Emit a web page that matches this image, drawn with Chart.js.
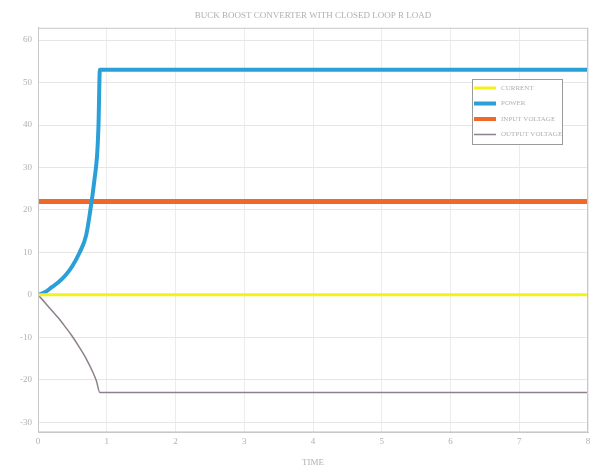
<!DOCTYPE html>
<html>
<head>
<meta charset="utf-8">
<script src="https://cdn.jsdelivr.net/npm/chart.js@4/dist/chart.umd.min.js"></script>
<style>
  html, body { margin: 0; padding: 0; background: #ffffff; }
  #wrap { width: 590px; height: 470px; }
</style>
</head>
<body>
<div id="wrap"><canvas id="c" width="590" height="470"></canvas></div>
<script>
// Simulation output of the buck-boost converter (time in s)
const timeRamp = [0, 0.1, 0.2, 0.3, 0.4, 0.5, 0.6, 0.7, 0.78, 0.82, 0.86, 0.88, 0.9, 8];
const powerValues = [0, 0.6, 1.8, 3, 4.6, 6.8, 9.8, 14, 22, 27, 33, 40, 53, 53];
const outputTime = [0, 0.1, 0.2, 0.3, 0.4, 0.5, 0.6, 0.7, 0.8, 0.85, 0.9, 8];
const outputVoltage = [0, -1.8, -3.7, -5.5, -7.6, -9.8, -12.3, -15, -18.3, -20.3, -23, -23];
const flatTime = [0, 8];
const currentValues = [0, 0];
const inputVoltage = [22, 22];
const seriesNames = ['CURRENT', 'POWER', 'INPUT VOLTAGE', 'OUTPUT VOLTAGE'];
const xTicks = [0, 1, 2, 3, 4, 5, 6, 7, 8];
const yTicks = [-30, -20, -10, 0, 10, 20, 30, 40, 50, 60];

const pts = (xs, ys) => xs.map((x, i) => ({ x: x, y: ys[i] }));
const textColor = '#b0b0b0';
const fontFamily = '"Liberation Serif", "DejaVu Serif", serif';

// Frame around the plot area and the legend box in its upper right corner
const framePlugin = {
  id: 'frame',
  afterDatasetsDraw(chart) {
    const { ctx, chartArea: a } = chart;
    ctx.save();
    ctx.strokeStyle = '#c8c8c8';
    ctx.lineWidth = 1;
    ctx.strokeRect(a.left + 0.5, a.top + 0.5, a.right - a.left - 1, a.bottom - a.top - 1);

    const bx = 472, by = 79, bw = 90, bh = 65;
    ctx.fillStyle = '#ffffff';
    ctx.fillRect(bx, by, bw, bh);
    ctx.strokeStyle = '#9a9a9a';
    ctx.strokeRect(bx + 0.5, by + 0.5, bw, bh);
    ctx.font = '7px ' + fontFamily;
    ctx.textBaseline = 'middle';
    chart.data.datasets.forEach((ds, i) => {
      const y = by + 9 + i * 15.5;
      ctx.strokeStyle = ds.borderColor;
      ctx.lineWidth = Math.min(ds.borderWidth, 4);
      ctx.beginPath();
      ctx.moveTo(bx + 2, y);
      ctx.lineTo(bx + 24, y);
      ctx.stroke();
      ctx.fillStyle = textColor;
      ctx.fillText(ds.label, bx + 29, y);
    });
    ctx.restore();
  }
};

new Chart(document.getElementById('c'), {
  type: 'line',
  data: {
    datasets: [
      { label: seriesNames[0], data: pts(flatTime, currentValues), borderColor: '#f4f21a', borderWidth: 3 },
      { label: seriesNames[1], data: pts(timeRamp, powerValues), borderColor: '#2a9fd8', borderWidth: 4 },
      { label: seriesNames[2], data: pts(flatTime, inputVoltage), borderColor: '#ef6a2a', borderWidth: 5 },
      { label: seriesNames[3], data: pts(outputTime, outputVoltage), borderColor: '#8e7f8c', borderWidth: 1.5 }
    ].map(d => Object.assign(d, { pointRadius: 0, cubicInterpolationMode: 'monotone', fill: false }))
  },
  options: {
    responsive: false,
    animation: false,
    layout: { padding: { left: 0, right: 2, top: 0, bottom: 2 } },
    plugins: {
      legend: { display: false },
      tooltip: { enabled: false },
      title: {
        display: true,
        fullSize: false,
        text: 'BUCK BOOST CONVERTER WITH CLOSED LOOP R LOAD',
        color: textColor,
        font: { family: fontFamily, size: 9, weight: 'normal' },
        padding: { top: 10, bottom: 7 }
      }
    },
    scales: {
      x: {
        type: 'linear',
        min: 0,
        max: 8,
        afterBuildTicks(s) { s.ticks = xTicks.map(v => ({ value: v })); },
        afterFit(s) { s.paddingRight = 0; },
        ticks: { color: textColor, font: { family: fontFamily, size: 9 }, padding: 4, maxRotation: 0 },
        grid: { color: '#ececec', tickLength: 0 },
        border: { color: '#c8c8c8' },
        title: { display: true, text: 'TIME', color: textColor, font: { family: fontFamily, size: 9 }, padding: { top: 6, bottom: 0 } }
      },
      y: {
        min: -32.4,
        max: 62.9,
        afterBuildTicks(s) { s.ticks = yTicks.map(v => ({ value: v })); },
        afterFit(s) { s.width = 38; },
        ticks: { color: textColor, font: { family: fontFamily, size: 9 }, padding: 6 },
        grid: { color: '#e6e6e6', tickLength: 0 },
        border: { color: '#c8c8c8' }
      }
    }
  },
  plugins: [framePlugin]
});
</script>
</body>
</html>
